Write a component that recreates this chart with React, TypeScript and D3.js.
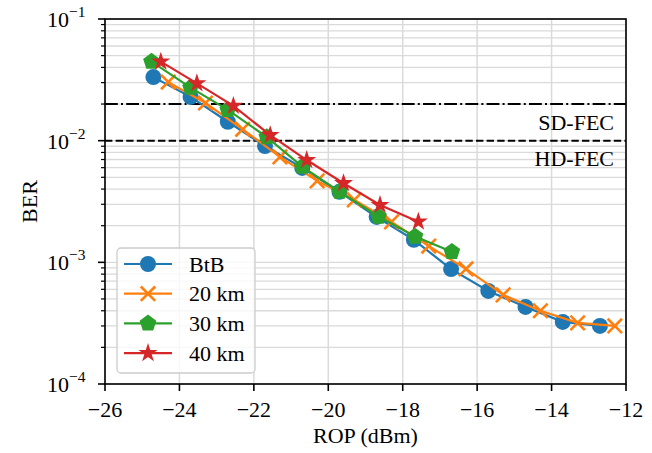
import React from "react";
import * as d3 from "d3";

const btbX = [-24.7, -23.7, -22.7, -21.7, -20.7, -19.7, -18.7, -17.7, -16.7, -15.7, -14.7, -13.7, -12.7];
const btbY = [0.0333, 0.0229, 0.0143, 0.00903, 0.00597, 0.0038, 0.00236, 0.00153, 0.00088, 0.000582, 0.00043, 0.000324, 0.0003];
const km20X = [-24.3, -23.3, -22.3, -21.3, -20.3, -19.3, -18.3, -17.3, -16.3, -15.3, -14.3, -13.3, -12.3];
const km20Y = [0.0303, 0.0204, 0.0124, 0.00735, 0.00467, 0.00326, 0.00215, 0.00136, 0.000883, 0.00054, 0.0004, 0.000318, 0.0003];
const km30X = [-24.75, -23.7, -22.7, -21.65, -20.7, -19.7, -18.65, -17.67, -16.68];
const km30Y = [0.0446, 0.0273, 0.0179, 0.0107, 0.00611, 0.00381, 0.00238, 0.00163, 0.00122];
const km40X = [-24.5, -23.53, -22.55, -21.56, -20.58, -19.59, -18.61, -17.58];
const km40Y = [0.0446, 0.0296, 0.0193, 0.0111, 0.00693, 0.00447, 0.00296, 0.00216];

const seriesNames = ["BtB", "20 km", "30 km", "40 km"];
const seriesColors = ["#1f77b4", "#ff7f0e", "#2ca02c", "#d62728"];
const xTicks = [-26, -24, -22, -20, -18, -16, -14, -12];
const yDecades = [-4, -3, -2, -1];
const sdFec = 2e-2;
const hdFec = 1e-2;

const W = 652, H = 453;
const L = 105, R = 626, T = 19, B = 384;
const FONT = "Liberation Serif, Times New Roman, DejaVu Serif, serif";

function pentagon(r: number) {
  const pts = d3.range(5).map(k => {
    const a = -Math.PI / 2 + (k * 2 * Math.PI) / 5;
    return [r * Math.cos(a), r * Math.sin(a)];
  });
  return "M" + pts.map(p => p.join(",")).join("L") + "Z";
}
function star(r: number) {
  const ri = r * 0.382;
  const pts = d3.range(10).map(k => {
    const a = -Math.PI / 2 + (k * Math.PI) / 5;
    const rr = k % 2 === 0 ? r : ri;
    return [rr * Math.cos(a), rr * Math.sin(a)];
  });
  return "M" + pts.map(p => p.join(",")).join("L") + "Z";
}

function Marker({ kind, x, y, color }: { kind: number; x: number; y: number; color: string }) {
  if (kind === 0) return <circle cx={x} cy={y} r={8} fill={color} />;
  if (kind === 1) {
    const s = 7.2;
    return (
      <g stroke={color} strokeWidth={2.6}>
        <line x1={x - s} y1={y - s} x2={x + s} y2={y + s} />
        <line x1={x - s} y1={y + s} x2={x + s} y2={y - s} />
      </g>
    );
  }
  if (kind === 2) return <path d={pentagon(8.8)} transform={`translate(${x},${y})`} fill={color} />;
  return <path d={star(10)} transform={`translate(${x},${y})`} fill={color} />;
}

export default function App() {
  const x = d3.scaleLinear().domain([-26, -12]).range([L, R]);
  const y = d3.scaleLog().domain([1e-4, 1e-1]).range([B, T]);

  const series = [
    { xs: btbX, ys: btbY },
    { xs: km20X, ys: km20Y },
    { xs: km30X, ys: km30Y },
    { xs: km40X, ys: km40Y },
  ];

  const line = d3.line<[number, number]>().x(d => x(d[0])).y(d => y(d[1]));

  const minor: number[] = [];
  for (const e of [-4, -3, -2]) for (let m = 2; m <= 9; m++) minor.push(m * Math.pow(10, e));

  const gridColor = "#dadada";
  const ts = { fontFamily: FONT, fontSize: "22px" };

  return (
    <svg width={W} height={H} style={{ position: "absolute", left: 0, top: 0, background: "#fff", fontFamily: FONT }}>
      <rect width={W} height={H} fill="#fff" />
      {/* grid */}
      {minor.map((v, i) => (
        <line key={"mg" + i} x1={L} x2={R} y1={y(v)} y2={y(v)} stroke={gridColor} strokeWidth={1.3} />
      ))}
      {yDecades.map(e => (
        <line key={"yg" + e} x1={L} x2={R} y1={y(Math.pow(10, e))} y2={y(Math.pow(10, e))} stroke={gridColor} strokeWidth={1.3} />
      ))}
      {xTicks.map(t => (
        <line key={"xg" + t} x1={x(t)} x2={x(t)} y1={T} y2={B} stroke={gridColor} strokeWidth={1.5} />
      ))}
      {/* FEC lines */}
      <line x1={L} x2={R} y1={y(sdFec)} y2={y(sdFec)} stroke="#000" strokeWidth={2} strokeDasharray="12.8,3.2,2,3.2" />
      <line x1={L} x2={R} y1={y(hdFec)} y2={y(hdFec)} stroke="#000" strokeWidth={2} strokeDasharray="7.4,3.2" />
      <text x={614} y={y(sdFec) + 26} textAnchor="end" style={ts}>SD-FEC</text>
      <text x={614} y={y(hdFec) + 25} textAnchor="end" style={ts}>HD-FEC</text>
      {/* series */}
      {series.map((s, si) => {
        const pts = s.xs.map((v, i) => [v, s.ys[i]] as [number, number]);
        return (
          <g key={"s" + si}>
            <path d={line(pts) || ""} fill="none" stroke={seriesColors[si]} strokeWidth={2.2} />
            {pts.map((p, i) => (
              <Marker key={i} kind={si} x={x(p[0])} y={y(p[1])} color={seriesColors[si]} />
            ))}
          </g>
        );
      })}
      {/* spines */}
      <rect x={L} y={T} width={R - L} height={B - T} fill="none" stroke="#000" strokeWidth={1.6} />
      {/* x ticks */}
      {xTicks.map(t => (
        <g key={"xt" + t}>
          <line x1={x(t)} x2={x(t)} y1={B} y2={B + 7} stroke="#000" strokeWidth={1.6} />
          <text x={x(t)} y={B + 33} textAnchor="middle" style={ts}>{t < 0 ? "\u2212" + Math.abs(t) : String(t)}</text>
        </g>
      ))}
      <text x={(L + R) / 2} y={443} textAnchor="middle" style={ts}>ROP (dBm)</text>
      {/* y ticks */}
      {minor.map((v, i) => (
        <line key={"ym" + i} x1={L - 4} x2={L} y1={y(v)} y2={y(v)} stroke="#000" strokeWidth={1.2} />
      ))}
      {yDecades.map(e => (
        <g key={"yt" + e}>
          <line x1={L - 7} x2={L} y1={y(Math.pow(10, e))} y2={y(Math.pow(10, e))} stroke="#000" strokeWidth={1.6} />
          <text x={47} y={y(Math.pow(10, e)) + 8} style={ts}>
            10<tspan dy={-10} style={{ fontSize: "15.5px" }}>{"\u2212" + Math.abs(e)}</tspan>
          </text>
        </g>
      ))}
      <text transform={`translate(37,${(T + B) / 2}) rotate(-90)`} textAnchor="middle" style={ts}>BER</text>
      {/* legend */}
      <rect x={117} y={248} width={138} height={125} rx={4} fill="#fff" fillOpacity={0.8} stroke="#cccccc" strokeWidth={1.3} />
      {seriesNames.map((n, i) => {
        const ly = 264 + i * 29.7;
        return (
          <g key={"lg" + i}>
            <line x1={124} x2={172} y1={ly} y2={ly} stroke={seriesColors[i]} strokeWidth={2.2} />
            <Marker kind={i} x={148} y={ly} color={seriesColors[i]} />
            <text x={189} y={ly + 7.5} style={ts}>{n}</text>
          </g>
        );
      })}
    </svg>
  );
}
